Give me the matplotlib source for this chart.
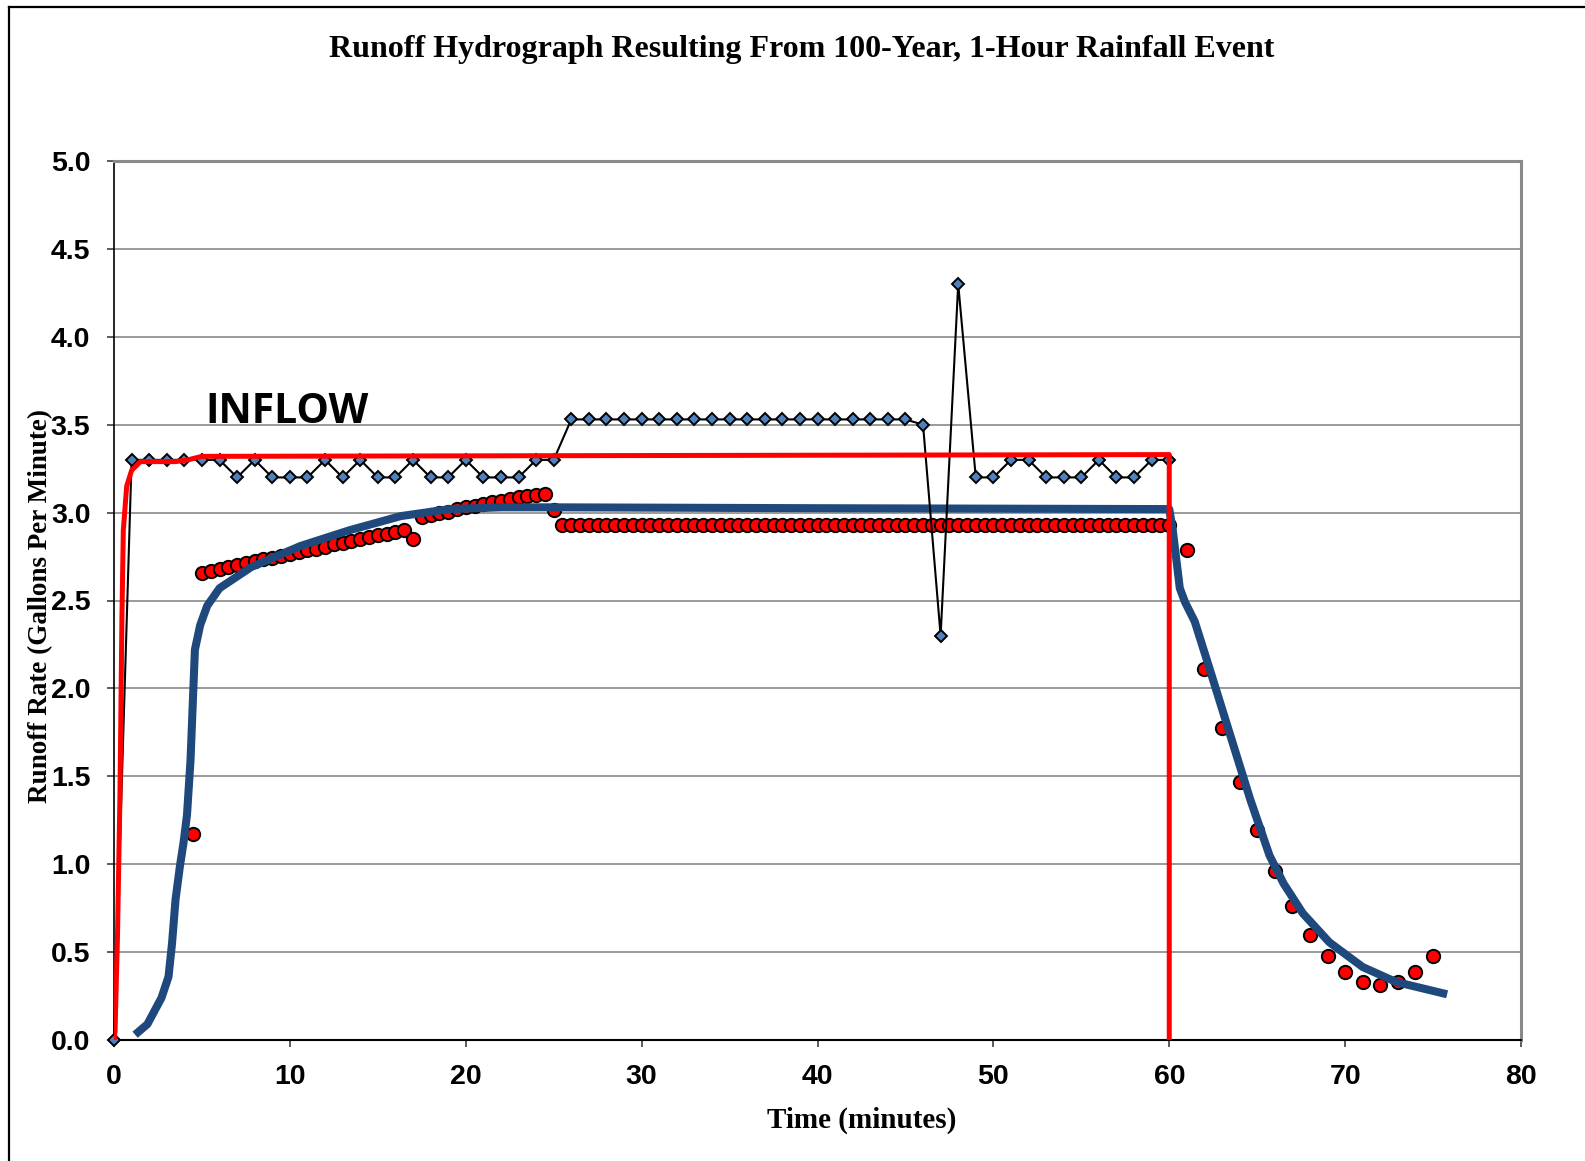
import matplotlib
matplotlib.use("Agg")
import matplotlib.pyplot as plt
from matplotlib.lines import Line2D

# ---------------- data ----------------
# Measured runoff (black line with blue diamonds), one value per minute
meas_t = list(range(0, 61))
meas_v = [0.0,
          3.3, 3.3, 3.3, 3.3, 3.3, 3.3,
          3.2, 3.3, 3.2, 3.2, 3.2, 3.3, 3.2, 3.3, 3.2, 3.2, 3.3, 3.2, 3.2,
          3.3, 3.2, 3.2, 3.2, 3.3, 3.3,
          3.53, 3.53, 3.53, 3.53, 3.53, 3.53, 3.53, 3.53, 3.53, 3.53,
          3.53, 3.53, 3.53, 3.53, 3.53, 3.53, 3.53, 3.53, 3.53, 3.53,
          3.5, 2.3, 4.3, 3.2, 3.2, 3.3, 3.3, 3.2, 3.2, 3.2, 3.3, 3.2, 3.2, 3.3, 3.3]

# Inflow (red line)
inflow_t = [0.0, 0.06, 0.2, 0.34, 0.45, 0.53, 0.72, 1.0, 1.5, 2.5, 3.5, 4.2, 5.0, 60.0, 60.0]
inflow_v = [0.0, 0.05, 0.6, 1.4, 2.4, 2.9, 3.15, 3.24, 3.29, 3.29, 3.29, 3.30, 3.32, 3.33, 0.0]

# Modelled runoff (thick dark blue line)
model_t = [1.2, 1.9, 2.7, 3.1, 3.3, 3.5, 3.75, 3.95, 4.15, 4.35, 4.6, 4.9, 5.3, 6.0,
           7.8, 10.6, 13.4, 16.3, 19.1, 22.0, 25.0, 40.0, 60.0,
           60.2, 60.6, 60.9, 61.45, 62.3, 63.45, 64.6, 65.7, 66.5, 67.6, 69.1,
           71.0, 72.9, 75.8]
model_v = [0.03, 0.09, 0.24, 0.36, 0.55, 0.80, 0.99, 1.12, 1.28, 1.59, 2.22, 2.36, 2.47, 2.57,
           2.69, 2.81, 2.90, 2.98, 3.02, 3.03, 3.03, 3.025, 3.02,
           2.90, 2.57, 2.49, 2.38, 2.11, 1.74, 1.37, 1.05, 0.89, 0.72, 0.556,
           0.415, 0.33, 0.26]

# Observed runoff (red dots)
obs_t = [4.5,
         5.0, 5.5, 6.0, 6.5, 7.0, 7.5, 8.0, 8.5, 9.0, 9.5,
         10.0, 10.5, 11.0, 11.5, 12.0, 12.5, 13.0, 13.5, 14.0, 14.5,
         15.0, 15.5, 16.0, 16.5, 17.0,
         17.5, 18.0, 18.5, 19.0, 19.5, 20.0, 20.5, 21.0, 21.5, 22.0,
         22.5, 23.0, 23.5, 24.0, 24.5,
         25.0,
         25.5, 26.0, 26.5, 27.0, 27.5, 28.0, 28.5, 29.0, 29.5, 30.0,
         30.5, 31.0, 31.5, 32.0, 32.5, 33.0, 33.5, 34.0, 34.5, 35.0,
         35.5, 36.0, 36.5, 37.0, 37.5, 38.0, 38.5, 39.0, 39.5, 40.0,
         40.5, 41.0, 41.5, 42.0, 42.5, 43.0, 43.5, 44.0, 44.5, 45.0,
         45.5, 46.0, 46.5, 47.0, 47.5, 48.0, 48.5, 49.0, 49.5, 50.0,
         50.5, 51.0, 51.5, 52.0, 52.5, 53.0, 53.5, 54.0, 54.5, 55.0,
         55.5, 56.0, 56.5, 57.0, 57.5, 58.0, 58.5, 59.0, 59.5, 60.0,
         61, 62, 63, 64, 65, 66, 67, 68, 69, 70, 71, 72, 73, 74, 75]
obs_v = [1.17,
         2.658, 2.670, 2.681, 2.691, 2.702, 2.713, 2.725, 2.734, 2.744, 2.755,
         2.767, 2.776, 2.785, 2.795, 2.806, 2.820, 2.829, 2.838, 2.850, 2.861,
         2.871, 2.880, 2.890, 2.901, 2.848,
         2.977, 2.986, 2.996, 3.005, 3.019, 3.030, 3.040, 3.049, 3.059, 3.068,
         3.077, 3.087, 3.094, 3.100, 3.106,
         3.015,
         2.93, 2.93, 2.93, 2.93, 2.93, 2.93, 2.93, 2.93, 2.93, 2.93,
         2.93, 2.93, 2.93, 2.93, 2.93, 2.93, 2.93, 2.93, 2.93, 2.93,
         2.93, 2.93, 2.93, 2.93, 2.93, 2.93, 2.93, 2.93, 2.93, 2.93,
         2.93, 2.93, 2.93, 2.93, 2.93, 2.93, 2.93, 2.93, 2.93, 2.93,
         2.93, 2.93, 2.93, 2.93, 2.93, 2.93, 2.93, 2.93, 2.93, 2.93,
         2.93, 2.93, 2.93, 2.93, 2.93, 2.93, 2.93, 2.93, 2.93, 2.93,
         2.93, 2.93, 2.93, 2.93, 2.93, 2.93, 2.93, 2.93, 2.93, 2.93,
         2.79, 2.11, 1.775, 1.47, 1.195, 0.96, 0.764, 0.60, 0.476, 0.387,
         0.332, 0.315, 0.332, 0.387, 0.476]

x_ticks = [0, 10, 20, 30, 40, 50, 60, 70, 80]
y_ticks = [0.0, 0.5, 1.0, 1.5, 2.0, 2.5, 3.0, 3.5, 4.0, 4.5, 5.0]

title = "Runoff Hydrograph Resulting From 100-Year, 1-Hour Rainfall Event"
xlabel = "Time (minutes)"
ylabel = "Runoff Rate (Gallons Per Minute)"
annot = "INFLOW"

# ---------------- figure ----------------
W, H = 1585, 1161
fig = plt.figure(figsize=(W / 100, H / 100), dpi=100)
ax = fig.add_axes([114 / W, 1 - 1040 / H, (1521 - 114) / W, (1040 - 161) / H])

ax.set_xlim(0, 80)
ax.set_ylim(0, 5)
ax.set_xticks(x_ticks)
ax.set_yticks(y_ticks)
ax.set_xticklabels([str(v) for v in x_ticks])
ax.set_yticklabels([f"{v:.1f}" for v in y_ticks])

for lab in ax.get_xticklabels() + ax.get_yticklabels():
    lab.set_fontfamily("Liberation Sans")
    lab.set_fontweight("bold")
    lab.set_fontsize(20.5)

ax.tick_params(axis="both", direction="out", length=5, width=1.2, color="#404040", pad=12)

ax.yaxis.grid(True, color="#7f7f7f", linewidth=1.1)
ax.set_axisbelow(True)

ax.spines["left"].set_color("black")
ax.spines["left"].set_linewidth(1.2)
ax.spines["bottom"].set_color("black")
ax.spines["bottom"].set_linewidth(1.5)
ax.spines["top"].set_color("#8a8a8a")
ax.spines["top"].set_linewidth(2.2)
ax.spines["right"].set_color("#8a8a8a")
ax.spines["right"].set_linewidth(2.2)

# series
ax.plot(obs_t, obs_v, linestyle="none", marker="o", markersize=9.6,
        markerfacecolor="#ff0000", markeredgecolor="black", markeredgewidth=1.4, zorder=3,
        clip_on=False)
ax.plot(model_t, model_v, color="#1f497d", linewidth=5.8, solid_capstyle="butt", zorder=4)
ax.plot(meas_t, meas_v, color="black", linewidth=1.5, marker="D", markersize=6.6,
        markerfacecolor="#4f81bd", markeredgecolor="black", markeredgewidth=1.4, zorder=5,
        clip_on=False)
ax.plot(inflow_t, inflow_v, color="#ff0000", linewidth=3.6, zorder=6)

# texts
fig.text(802 / W, 1 - 49 / H, title, ha="center", va="center",
         fontfamily="Liberation Serif", fontweight="bold", fontsize=23)
fig.text(862 / W, 1 - 1120 / H, xlabel, ha="center", va="center",
         fontfamily="Liberation Serif", fontweight="bold", fontsize=21)
fig.text(41 / W, 1 - 606 / H, ylabel, ha="center", va="center", rotation=90,
         fontfamily="Liberation Serif", fontweight="bold", fontsize=19.5, zorder=10)
fig.text(287 / W, 1 - 412 / H, annot, ha="center", va="center",
         fontfamily="Open Sans", fontweight="bold", fontsize=29.5)

# figure border (top and left only, as in the reference)
fig.add_artist(Line2D([9 / W, 9 / W], [0, 1 - 7 / H], transform=fig.transFigure,
                      color="black", linewidth=1.6))
fig.add_artist(Line2D([9 / W, 1], [1 - 7 / H, 1 - 7 / H], transform=fig.transFigure,
                      color="black", linewidth=1.6))

fig.savefig("out.png", dpi=100)
